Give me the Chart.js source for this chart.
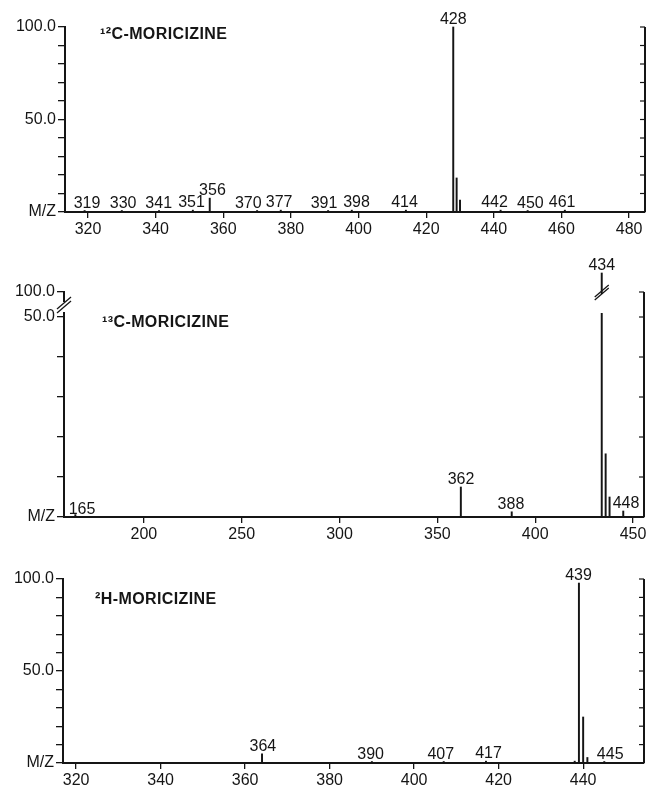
<!DOCTYPE html>
<html>
<head>
<meta charset="utf-8">
<script src="https://cdn.jsdelivr.net/npm/chart.js@4"></script>
<style>
  body { margin: 0; background: #fff; width: 648px; height: 792px; position: relative; overflow: hidden; }
  canvas { position: absolute; left: 0; }
</style>
</head>
<body>
<canvas id="c1" width="648" height="240" style="top:0px"></canvas>
<canvas id="c2" width="648" height="305" style="top:240px"></canvas>
<canvas id="c3" width="648" height="247" style="top:545px"></canvas>
<script>
// 12C-moricizine
var mz1 = [319, 330, 341, 351, 356, 370, 377, 391, 398, 414, 428, 429, 430, 442, 450, 461];
var int1 = [0.8, 0.8, 0.8, 1.0, 7.5, 0.8, 1.0, 0.8, 1.0, 1.0, 100, 18.4, 6.5, 1.0, 0.8, 1.0];
var labels1 = [319, 330, 341, 351, 356, 370, 377, 391, 398, 414, 428, 442, 450, 461];
// where each label sits along m/z (as printed on the chart)
var labelAt1 = [319.7, 330.4, 340.9, 350.6, 356.8, 367.4, 376.5, 389.8, 399.4, 413.6, 428, 440.2, 450.8, 460.2];
var xTicks1 = [320, 340, 360, 380, 400, 420, 440, 460, 480];
var yTicks1 = [0, 10, 20, 30, 40, 50, 60, 70, 80, 90, 100];

// 13C-moricizine (axis broken above 50)
var mz2 = [165, 362, 388, 434, 436, 438, 445];
var int2 = [0.6, 7.5, 1.3, 100, 15.8, 5.0, 1.5];
var labels2 = [165, 362, 388, 434, 448];
var labelAt2 = [168.4, 362.1, 387.6, 434, 446.4];
var xTicks2 = [200, 250, 300, 350, 400, 450];
var yTicks2 = [0, 10, 20, 30, 40, 50, 100];

// 2H-moricizine
var mz3 = [364, 390, 407, 417, 438, 439, 440, 441, 445];
var int3 = [5.0, 0.8, 0.8, 1.0, 1.0, 97.8, 25.0, 3.0, 0.8];
var labels3 = [364, 390, 407, 417, 439, 445];
var labelAt3 = [364.2, 389.7, 406.3, 417.6, 438.9, 446.4];
var xTicks3 = [320, 340, 360, 380, 400, 420, 440];
var yTicks3 = [0, 10, 20, 30, 40, 50, 60, 70, 80, 90, 100];

var FONT = '"Liberation Sans", Arial, Helvetica, sans-serif';
var INK = '#151515';

function plain(v) { return v; }
// broken axis: 0-50 linear, everything above squeezed
function broken(v) { return v <= 50 ? v : 50 + (v - 50) * 0.22; }
function brokenTick(v) { return v <= 50 ? v : 56.25; }

function yLabel(v, top) {
  if (v === 0) return 'M/Z';
  if (v === 50) return '50.0';
  if (v === top) return '100.0';
  return '';
}

function decor(p) {
  return {
    id: 'decor',
    afterDraw: function (chart) {
      var c = chart.ctx, a = chart.chartArea;
      var xs = chart.scales.x, ys = chart.scales.y;
      c.save();
      c.strokeStyle = INK;
      c.fillStyle = INK;
      // right frame with inward ticks
      c.lineWidth = 2;
      c.beginPath();
      c.moveTo(a.right, a.top);
      c.lineTo(a.right, a.bottom);
      c.stroke();
      c.lineWidth = 1.2;
      p.yTicks.forEach(function (t) {
        var y = ys.getPixelForValue(p.tickOf(t));
        c.beginPath();
        c.moveTo(a.right - 5, y);
        c.lineTo(a.right, y);
        c.stroke();
      });
      // title
      c.font = 'bold 16px ' + FONT;
      c.letterSpacing = '0.4px';
      c.textAlign = 'left';
      c.textBaseline = 'middle';
      c.fillText(p.title, a.left + p.titleDx, p.titleY);
      c.letterSpacing = '0px';
      // peak labels
      c.font = '16px ' + FONT;
      c.textAlign = 'center';
      c.textBaseline = 'alphabetic';
      var base = ys.getPixelForValue(0);
      p.labels.forEach(function (txt, k) {
        var m = p.labelAt[k];
        var best = 0;
        p.mz.forEach(function (q, i) { if (Math.abs(q - m) <= 3) best = Math.max(best, p.inten[i]); });
        var top = ys.getPixelForValue(p.yOf(best));
        var y = Math.min(top - 3, base - 3);
        c.fillText(String(txt), xs.getPixelForValue(m), y);
      });
      // axis break marks
      if (p.breakAt) {
        var yTop = a.top, y50 = ys.getPixelForValue(50);
        var yb = yTop + 11;
        c.fillStyle = '#fff';
        c.fillRect(a.left - 3, yb - 1, 6, 10);
        c.strokeStyle = INK;
        c.lineWidth = 1.3;
        [0, 4].forEach(function (d) {
          c.beginPath();
          c.moveTo(a.left - 7, yb + 6 + d);
          c.lineTo(a.left + 7, yb - 6 + d);
          c.stroke();
        });
        var bx = xs.getPixelForValue(p.breakAt);
        c.fillStyle = '#fff';
        c.fillRect(bx - 3, yTop + 2, 6, y50 - yTop - 6);
        [0, 3].forEach(function (d) {
          c.beginPath();
          c.moveTo(bx - 7, yTop + 5 + d);
          c.lineTo(bx + 7, yTop - 7 + d);
          c.stroke();
        });
      }
      c.restore();
    }
  };
}

function spectrum(id, p) {
  var pts = p.mz.map(function (m, i) { return { x: m, y: p.yOf(p.inten[i]) }; });
  var top = p.tickOf(100);
  return new Chart(document.getElementById(id), {
    type: 'bar',
    data: {
      datasets: [{
        data: pts,
        backgroundColor: INK,
        barThickness: 1.3,
        clip: false
      }]
    },
    options: {
      responsive: false,
      animation: false,
      devicePixelRatio: 1,
      layout: { padding: { top: p.padTop, right: p.padRight, left: 0, bottom: 0 } },
      plugins: { legend: { display: false }, tooltip: { enabled: false } },
      scales: {
        x: {
          type: 'linear',
          offset: false,
          min: p.xMin,
          max: p.xMax,
          afterBuildTicks: function (s) { s.ticks = p.xTicks.map(function (v) { return { value: v }; }); },
          afterFit: function (s) { s.height = p.xH; s.paddingLeft = 0; s.paddingRight = 0; },
          grid: { drawOnChartArea: false, tickLength: 6, color: INK, lineWidth: 1.3, offset: false },
          border: { color: INK, width: 2 },
          ticks: { color: INK, font: { family: FONT, size: 16 }, padding: 2, maxRotation: 0, autoSkip: false }
        },
        y: {
          min: 0,
          max: top,
          afterBuildTicks: function (s) { s.ticks = p.yTicks.map(function (v) { return { value: p.tickOf(v) }; }); },
          afterFit: function (s) { s.width = p.yW; s.paddingTop = 0; s.paddingBottom = 0; },
          grid: { drawOnChartArea: false, tickLength: 7, color: INK, lineWidth: 1.3 },
          border: { color: INK, width: 2 },
          ticks: {
            color: INK, font: { family: FONT, size: 16 }, padding: 2, autoSkip: false,
            callback: function (v) { return yLabel(v, top); }
          }
        }
      }
    },
    plugins: [decor(p)]
  });
}

spectrum('c1', {
  mz: mz1, inten: int1, labels: labels1, labelAt: labelAt1, xTicks: xTicks1, yTicks: yTicks1,
  yOf: plain, tickOf: plain, title: '¹²C-MORICIZINE', titleDx: 35, titleY: 35,
  xMin: 313.2, xMax: 484.7, padTop: 27, padRight: 3, xH: 28, yW: 65
});
spectrum('c2', {
  mz: mz2, inten: int2, labels: labels2, labelAt: labelAt2, xTicks: xTicks2, yTicks: yTicks2,
  yOf: broken, tickOf: brokenTick, title: '¹³C-MORICIZINE', titleDx: 38, titleY: 83,
  xMin: 159.2, xMax: 455.6, padTop: 52, padRight: 4, xH: 28, yW: 64, breakAt: 434
});
spectrum('c3', {
  mz: mz3, inten: int3, labels: labels3, labelAt: labelAt3, xTicks: xTicks3, yTicks: yTicks3,
  yOf: plain, tickOf: plain, title: '²H-MORICIZINE', titleDx: 32, titleY: 55,
  xMin: 316.9, xMax: 454.4, padTop: 34, padRight: 4, xH: 29, yW: 63
});
</script>
</body>
</html>
